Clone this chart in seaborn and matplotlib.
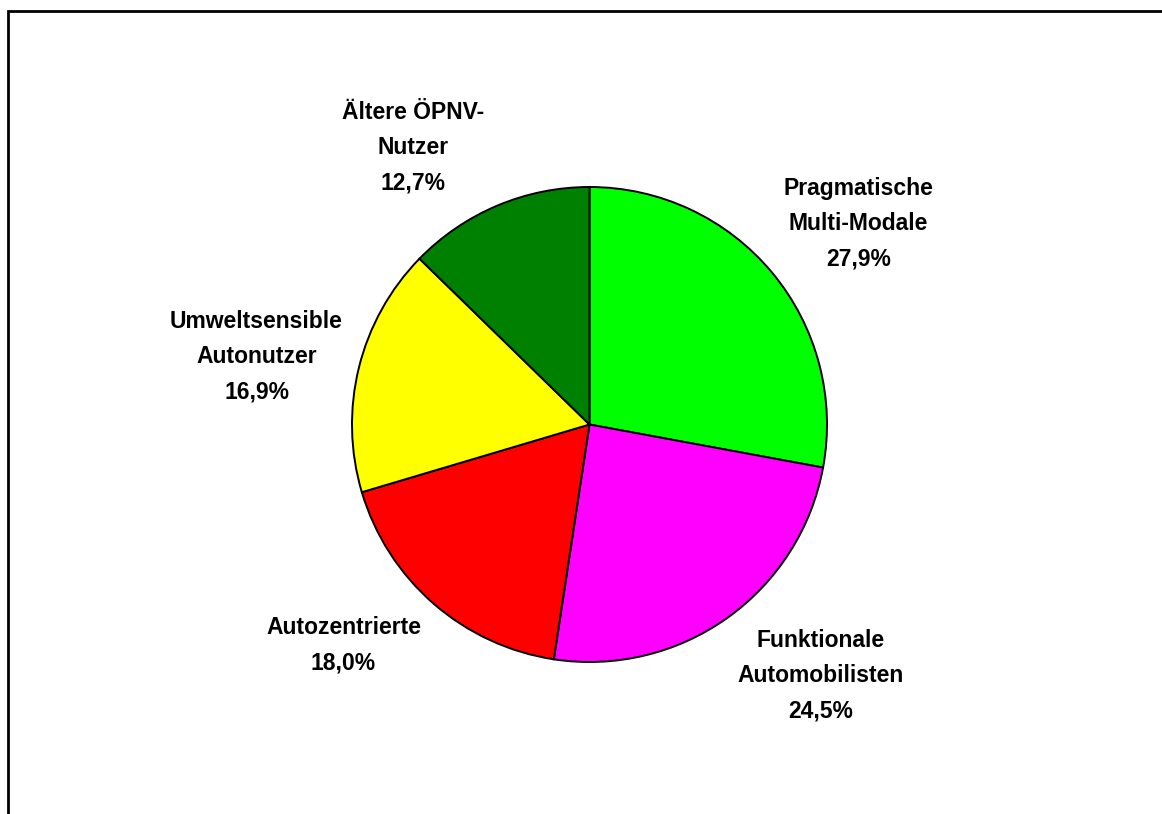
import matplotlib
matplotlib.use("Agg")
import matplotlib.pyplot as plt
import seaborn as sns
import numpy as np
from matplotlib.patches import Rectangle

sns.set_theme(style="white")
plt.rcParams["font.family"] = ["Liberation Sans", "DejaVu Sans"]

# Segment shares (percent), clockwise from 12 o'clock
segments = [
    "Pragmatische\nMulti-Modale",
    "Funktionale\nAutomobilisten",
    "Autozentrierte",
    "Umweltsensible\nAutonutzer",
    "Ältere ÖPNV-\nNutzer",
]
shares = [27.9, 24.5, 18.0, 16.9, 12.7]
colors = ["#00FF00", "#FF00FF", "#FF0000", "#FFFF00", "#008000"]

# Label anchor offsets (pixels, relative to pie centre)
label_offsets = [(269, 201), (231, -251), (-246, -221), (-333, 68), (-176, 277)]

W, H = 1162, 814
fig = plt.figure(figsize=(W / 100, H / 100), dpi=100)
ax = fig.add_axes([0, 0, 1, 1])

cx, cy, r = 589.5, H - 424.5, 237.5
ax.pie(
    shares,
    colors=colors,
    startangle=90,
    counterclock=False,
    center=(cx, cy),
    radius=r,
    wedgeprops=dict(edgecolor="black", linewidth=1.4),
    frame=True,
)
ax.set_xlim(0, W)
ax.set_ylim(0, H)
ax.set_aspect("equal")
ax.axis("off")

for name, val, (dx, dy) in zip(segments, shares, label_offsets):
    txt = f"{name}\n{val:.1f}%".replace(".", ",")
    ax.text(cx + dx, cy + dy, txt, ha="center", va="center",
            fontsize=16.5, fontweight="bold", color="black",
            linespacing=1.68)

# Chart area border (top and left edges visible)
fig.patches.append(Rectangle((8 / W, -0.1), 1.2, (H - 10.5) / H + 0.1,
                             transform=fig.transFigure, fill=False,
                             edgecolor="black", linewidth=2.0))

fig.savefig("out.png", dpi=100, facecolor="white")
